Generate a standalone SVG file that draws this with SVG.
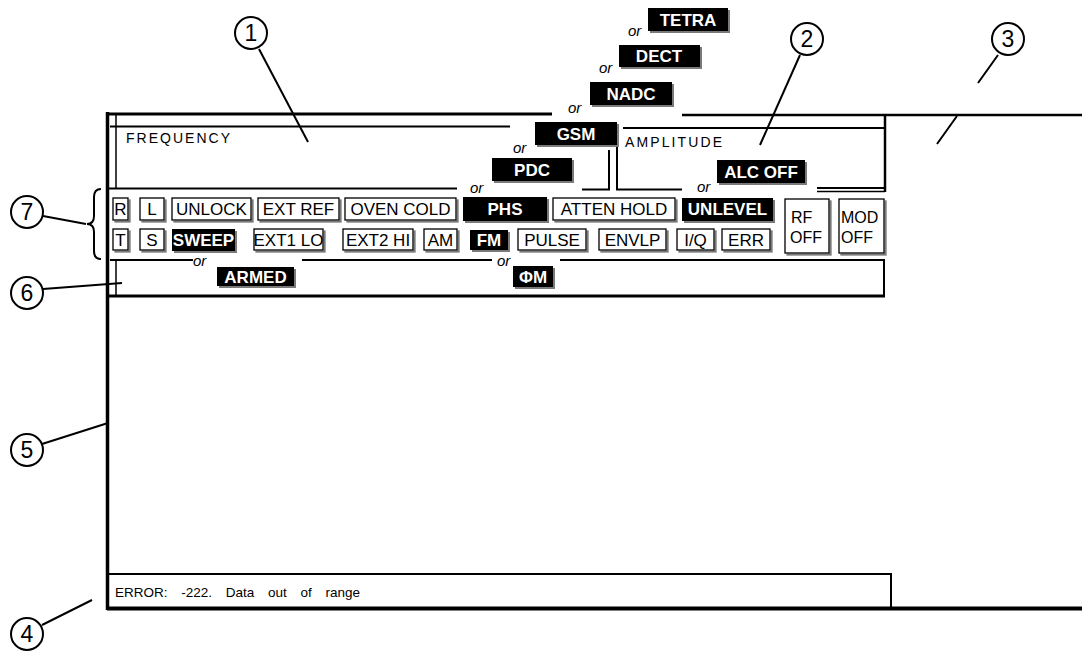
<svg xmlns="http://www.w3.org/2000/svg" width="1082" height="652" viewBox="0 0 1082 652">
<defs>
  <filter id="sh" x="-10%" y="-10%" width="130%" height="150%">
    <feOffset in="SourceAlpha" dx="1.6" dy="1.6" result="o"/>
    <feFlood flood-color="#7a7a7a"/>
    <feComposite in2="o" operator="in" result="s"/>
    <feMerge><feMergeNode in="s"/><feMergeNode in="SourceGraphic"/></feMerge>
  </filter>
  <style>
    text { font-family: "Liberation Sans", Arial, sans-serif; fill: #000; }
    .ln { stroke: #000; fill: none; }
    .w rect { fill: #fff; stroke: #000; stroke-width: 1.3; filter: url(#sh); }
    .w text { font-size: 17px; text-anchor: middle; }
    .w text.k { font-size: 16px; text-anchor: start; }
    .b rect { fill: #000; filter: url(#sh); }
    .b text { font-size: 17px; font-weight: bold; fill: #fff; text-anchor: middle; }
    .or { font-size: 15px; font-style: italic; }
    .lbl { font-size: 14px; }
    .call circle { fill: #fff; stroke: #000; stroke-width: 2; }
    .call text { font-size: 23px; text-anchor: middle; }
    .cn { stroke: #000; stroke-width: 2; fill: none; }
  </style>
</defs>
<rect width="1082" height="652" fill="#fff"/>

<!-- display frame -->
<g id="frame" class="ln">
  <path d="M107.5 112 V610" stroke-width="3.5"/>
  <path d="M107 114 H552" stroke-width="3"/>
  <path d="M682 115 H1082" stroke-width="2.5"/>
  <path d="M110 126.5 H510 M623 128 H885" stroke-width="2"/>
  <path d="M116 114 V188 M116 260 V296" stroke-width="1.5"/>
  <path d="M107 188.5 H457 M582 189.5 H609 V150 M617 127 V189.5 H682 M817 188 H885" stroke-width="2"/>
  <path d="M817 191.5 H885" stroke-width="1.5"/>
  <path d="M885 114 V192" stroke-width="2.5"/>
  <path d="M110 260 H193 M302 260 H492 M560 260 H884 V297" stroke-width="2"/>
  <path d="M107 296 H885" stroke-width="3"/>
  <path d="M107 574 H891 V608" stroke-width="2"/>
  <path d="M107 608.5 H1082" stroke-width="4"/>
</g>

<!-- area labels -->
<g id="labels">
  <text class="lbl" x="126" y="143" textLength="104" lengthAdjust="spacing">FREQUENCY</text>
  <text class="lbl" x="625" y="147" textLength="97" lengthAdjust="spacing">AMPLITUDE</text>
  <text x="115" y="597" font-size="13.5" word-spacing="10">ERROR: -222. Data out of range</text>
</g>

<!-- alternate modulation format annunciators -->
<g id="formats">
  <g id="tetra" class="b"><rect x="648" y="8" width="80" height="23"/><text x="688" y="26">TETRA</text></g>
  <text class="or" x="628" y="36">or</text>
  <g id="dect" class="b"><rect x="619" y="45" width="81" height="22"/><text x="659" y="62">DECT</text></g>
  <text class="or" x="599" y="73">or</text>
  <g id="nadc" class="b"><rect x="590" y="82" width="82" height="23"/><text x="631" y="100">NADC</text></g>
  <text class="or" x="568" y="113">or</text>
  <g id="gsm" class="b"><rect x="535" y="122" width="82" height="23"/><text x="576" y="140">GSM</text></g>
  <text class="or" x="513" y="153">or</text>
  <g id="pdc" class="b"><rect x="492" y="158" width="80" height="23"/><text x="532" y="176">PDC</text></g>
  <text class="or" x="470" y="193">or</text>
  <g id="alcoff" class="b"><rect x="717" y="160" width="88" height="23"/><text x="761" y="178">ALC OFF</text></g>
  <text class="or" x="697" y="192">or</text>
</g>

<!-- annunciator row 1 -->
<g id="row1">
  <g id="r" class="w"><rect x="113" y="198" width="15" height="22"/><text x="120.5" y="215">R</text></g>
  <g id="l" class="w"><rect x="140" y="198" width="24" height="22"/><text x="152" y="215">L</text></g>
  <g id="unlock" class="w"><rect x="172" y="198" width="79" height="22"/><text x="211.5" y="215">UNLOCK</text></g>
  <g id="extref" class="w"><rect x="258" y="198" width="81" height="22"/><text x="298.5" y="215">EXT REF</text></g>
  <g id="ovencold" class="w"><rect x="345" y="198" width="111" height="22"/><text x="400.5" y="215">OVEN COLD</text></g>
  <g id="phs" class="b"><rect x="463" y="197" width="84" height="24"/><text x="505" y="215">PHS</text></g>
  <g id="attenhold" class="w"><rect x="553" y="198" width="122" height="22"/><text x="614" y="215">ATTEN HOLD</text></g>
  <g id="unlevel" class="b"><rect x="682" y="198" width="91" height="23"/><text x="727.5" y="215">UNLEVEL</text></g>
</g>

<!-- annunciator row 2 -->
<g id="row2">
  <g id="t" class="w"><rect x="113" y="229" width="15" height="21"/><text x="120.5" y="246">T</text></g>
  <g id="s" class="w"><rect x="140" y="229" width="24" height="21"/><text x="152" y="246">S</text></g>
  <g id="sweep" class="b"><rect x="172" y="229" width="63" height="22"/><text x="203.5" y="246">SWEEP</text></g>
  <g id="ext1lo" class="w"><rect x="254" y="229" width="69" height="21"/><text x="288.5" y="246">EXT1 LO</text></g>
  <g id="ext2hi" class="w"><rect x="343" y="229" width="70" height="21"/><text x="378" y="246">EXT2 HI</text></g>
  <g id="am" class="w"><rect x="424" y="229" width="33" height="21"/><text x="440.5" y="246">AM</text></g>
  <g id="fm" class="b"><rect x="470" y="230" width="38" height="20"/><text x="489" y="246">FM</text></g>
  <g id="pulse" class="w"><rect x="518" y="229" width="68" height="21"/><text x="552" y="246">PULSE</text></g>
  <g id="envlp" class="w"><rect x="599" y="229" width="67" height="21"/><text x="632.5" y="246">ENVLP</text></g>
  <g id="iq" class="w"><rect x="677" y="229" width="37" height="21"/><text x="695.5" y="246">I/Q</text></g>
  <g id="err" class="w"><rect x="722" y="229" width="48" height="21"/><text x="746" y="246">ERR</text></g>
</g>

<!-- output keys -->
<g id="rfoff" class="w"><rect x="785" y="199" width="44" height="54"/>
  <text class="k" x="791" y="223">RF</text><text class="k" x="790" y="243">OFF</text></g>
<g id="modoff" class="w"><rect x="839" y="199" width="45" height="54"/>
  <text class="k" x="841" y="223">MOD</text><text class="k" x="841" y="243">OFF</text></g>

<!-- row 6 annunciators -->
<g id="row6">
  <text class="or" x="193" y="266">or</text>
  <g id="armed" class="b"><rect x="217" y="267" width="77" height="19"/><text x="255.5" y="283">ARMED</text></g>
  <text class="or" x="497" y="266">or</text>
  <g id="phim" class="b"><rect x="513" y="266" width="40" height="21"/><text x="533" y="283">ΦM</text></g>
</g>

<!-- bracket for row 7 -->
<path id="brace" class="cn" stroke-width="1.8" d="M101 189 Q94 189 94 197 V216 Q94 224 87 224 Q94 224 94 232 V251 Q94 259 101 259"/>

<!-- callout leaders -->
<g id="connectors">
  <path class="cn" d="M259 49 L308 142"/>
  <path class="cn" d="M800 55 L760 145"/>
  <path class="cn" d="M998 55 L978 83 M957 116 L937 144"/>
  <path class="cn" d="M42 625 L92 600"/>
  <path class="cn" d="M42 444 L108 423"/>
  <path class="cn" d="M43 289 L122 283"/>
  <path class="cn" d="M43 216 L86 224"/>
</g>

<!-- callout numbers -->
<g id="c1" class="call"><circle cx="251" cy="33" r="16"/><text x="251" y="41">1</text></g>
<g id="c2" class="call"><circle cx="807" cy="39" r="16"/><text x="807" y="47">2</text></g>
<g id="c3" class="call"><circle cx="1008" cy="39" r="16"/><text x="1008" y="47">3</text></g>
<g id="c4" class="call"><circle cx="27" cy="634" r="16"/><text x="27" y="642">4</text></g>
<g id="c5" class="call"><circle cx="27" cy="450" r="16"/><text x="27" y="458">5</text></g>
<g id="c6" class="call"><circle cx="27" cy="293" r="16"/><text x="27" y="301">6</text></g>
<g id="c7" class="call"><circle cx="27" cy="212" r="16"/><text x="27" y="220">7</text></g>
</svg>
